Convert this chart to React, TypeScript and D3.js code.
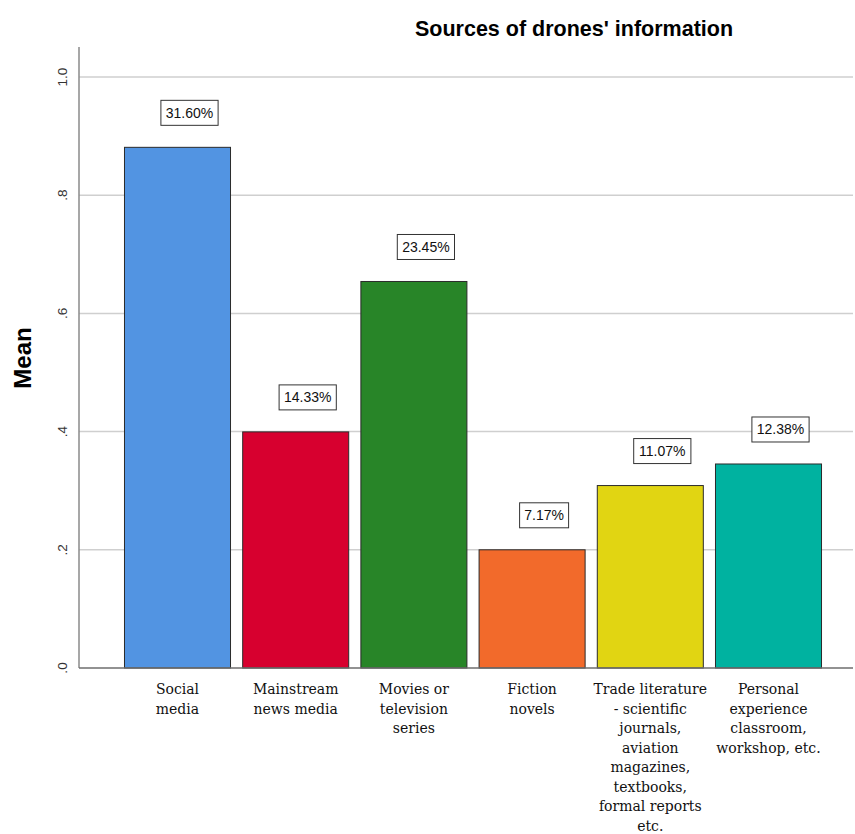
import React from "react";
import * as d3 from "d3";

// Mean score for each information source (0–1 scale)
const categories = [
  "Social media",
  "Mainstream news media",
  "Movies or television series",
  "Fiction novels",
  "Trade literature",
  "Personal experience",
];
const categoryLines = [
  ["Social", "media"],
  ["Mainstream", "news media"],
  ["Movies or", "television", "series"],
  ["Fiction", "novels"],
  ["Trade literature", "- scientific", "journals,", "aviation", "magazines,", "textbooks,", "formal reports", "etc."],
  ["Personal", "experience", "classroom,", "workshop, etc."],
];
const means = [0.881, 0.3995, 0.654, 0.2, 0.3087, 0.3452];
const percentLabels = ["31.60%", "14.33%", "23.45%", "7.17%", "11.07%", "12.38%"];
const barColors = ["#5294e2", "#d7002f", "#288528", "#f26a2b", "#e1d512", "#00b2a0"];
const yTicks = [0, 0.2, 0.4, 0.6, 0.8, 1.0];
const yTickLabels = [".0", ".2", ".4", ".6", ".8", "1.0"];

const W = 855;
const H = 834;
const plotLeft = 79;
const plotRight = 853;
const plotTop = 47;
const plotBottom = 668;

export default function App() {
  const y = d3.scaleLinear().domain([0, 1]).range([plotBottom, 77]);
  const x = d3
    .scaleBand<string>()
    .domain(categories)
    .range([118.4, 827.6])
    .paddingInner(0.103)
    .paddingOuter(0.0515);

  const sans = "Liberation Sans, Arial, sans-serif";
  const serif = "DejaVu Serif, serif";

  return (
    <svg
      width={W}
      height={H}
      viewBox={`0 0 ${W} ${H}`}
      style={{ position: "absolute", left: 0, top: 0, background: "#fff" }}
    >
      <rect x={0} y={0} width={W} height={H} fill="#fff" />
      <text
        x={574}
        y={36}
        textAnchor="middle"
        fontFamily={sans}
        fontWeight="bold"
        fontSize={21.5}
        fill="#000"
      >
        Sources of drones' information
      </text>

      {/* horizontal gridlines */}
      {yTicks.slice(1).map((t) => (
        <line
          key={t}
          x1={plotLeft}
          x2={plotRight}
          y1={y(t)}
          y2={y(t)}
          stroke="#cfcfcf"
          strokeWidth={1.5}
        />
      ))}

      {/* y axis tick labels, rotated */}
      {yTicks.map((t, i) => (
        <text
          key={t}
          transform={`translate(67,${y(t)}) rotate(-90)`}
          textAnchor="middle"
          fontFamily={sans}
          fontSize={13.5}
          fill="#333"
        >
          {yTickLabels[i]}
        </text>
      ))}
      <text
        transform={`translate(31,358) rotate(-90)`}
        textAnchor="middle"
        fontFamily={sans}
        fontWeight="bold"
        fontSize={24}
        fill="#000"
      >
        Mean
      </text>

      {/* bars */}
      {categories.map((c, i) => (
        <rect
          key={c}
          x={x(c)}
          y={y(means[i])}
          width={x.bandwidth()}
          height={plotBottom - y(means[i])}
          fill={barColors[i]}
          stroke="#2b2b2b"
          strokeWidth={1}
        />
      ))}

      {/* axis lines */}
      <line x1={plotLeft} x2={plotLeft} y1={plotTop} y2={plotBottom} stroke="#8a8a8a" strokeWidth={1.5} />
      <line x1={plotLeft} x2={plotRight} y1={plotBottom} y2={plotBottom} stroke="#6e6e6e" strokeWidth={1.5} />

      {/* value labels */}
      {categories.map((c, i) => {
        const cx = (x(c) as number) + x.bandwidth() / 2 + 12;
        const bw = percentLabels[i].length * 8.2 + 8;
        const bh = 25;
        const by = y(means[i]) - 22 - bh;
        return (
          <g key={c}>
            <rect x={cx - bw / 2} y={by} width={bw} height={bh} fill="#fff" stroke="#333" strokeWidth={1} />
            <text
              x={cx}
              y={by + bh / 2 + 5}
              textAnchor="middle"
              fontFamily={sans}
              fontSize={14}
              fill="#111"
            >
              {percentLabels[i]}
            </text>
          </g>
        );
      })}

      {/* category labels */}
      {categories.map((c, i) => {
        const cx = (x(c) as number) + x.bandwidth() / 2;
        return (
          <text key={c} textAnchor="middle" fontFamily={serif} fontSize={14} fill="#111">
            {categoryLines[i].map((line, j) => (
              <tspan key={j} x={cx} y={694 + j * 19.5}>
                {line}
              </tspan>
            ))}
          </text>
        );
      })}
    </svg>
  );
}
